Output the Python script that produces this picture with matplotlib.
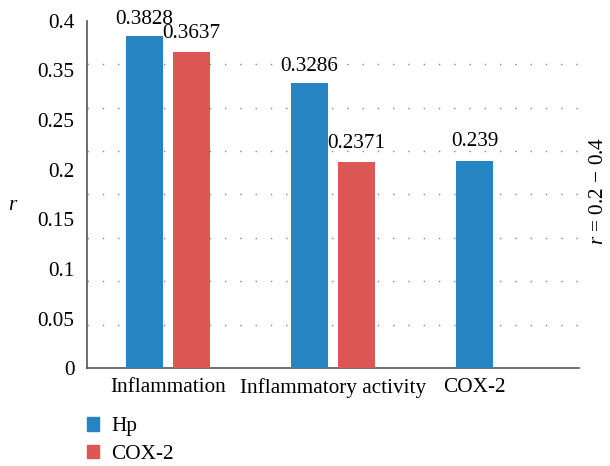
import matplotlib
matplotlib.use("Agg")
import matplotlib.pyplot as plt
from matplotlib.patches import Patch
import numpy as np

# data
categories = ["Inflammation", "Inflammatory activity", "COX-2"]
hp_values = [0.3828, 0.3286, 0.239]
cox2_values = [0.3637, 0.2371, None]
series_names = ["Hp", "COX-2"]
# the reference puts its y labels evenly, skipping 0.3
ytick_labels = ["0", "0.05", "0.1", "0.15", "0.2", "0.25", "0.35", "0.4"]

blue = "#2684C2"
red = "#DD5755"

plt.rcParams["font.family"] = ["Liberation Serif", "DejaVu Serif"]
plt.rcParams["font.size"] = 15.3
plt.rcParams["mathtext.fontset"] = "custom"
plt.rcParams["mathtext.it"] = "Liberation Serif:italic"
plt.rcParams["mathtext.rm"] = "Liberation Serif"

fig = plt.figure(figsize=(6.1, 4.66), dpi=100)
ax = fig.add_axes([0.1426, 0.2097, 0.8064, 0.7459])

width = 0.224
off = 0.142

for i, (h, c) in enumerate(zip(hp_values, cox2_values)):
    if c is None:
        b = ax.bar(i - off, h, width, color=blue, zorder=3)
        ax.bar_label(b, labels=[str(h)], padding=7)
    else:
        b = ax.bar(i - off, h, width, color=blue, zorder=3)
        ax.bar_label(b, labels=[str(h)], padding=5)
        b2 = ax.bar(i + off, c, width, color=red, zorder=3)
        ax.bar_label(b2, labels=[str(c)], padding=7)

ax.set_xlim(-0.49, 2.49)
ax.set_ylim(0, 0.4)

tick_pos = [0, 1, 2 - off]
ax.set_xticks(tick_pos)
ax.set_xticklabels(categories)
ax.tick_params(axis="x", length=0, pad=7)

# label positions spaced evenly, gridlines at every 0.05
ax.set_yticks(np.linspace(0, 0.4, len(ytick_labels)))
ax.set_yticklabels(ytick_labels)
ax.set_yticks(np.arange(0, 0.41, 0.05), minor=True)
ax.tick_params(axis="y", which="both", length=0, pad=9)
ax.grid(axis="y", which="minor", linestyle=(0, (1, 10)), color="#888888", linewidth=1, zorder=0)
ax.grid(axis="y", which="major", visible=False)

for s in ["top", "right"]:
    ax.spines[s].set_visible(False)
for s in ["left", "bottom"]:
    ax.spines[s].set_color("#555555")
    ax.spines[s].set_linewidth(1.2)

ax.set_ylabel("$r$", rotation=0)
ax.yaxis.set_label_coords(-0.15, 0.44)

fig.text(0.981, 1 - 191 / 466, "$r$ = 0.2 − 0.4", rotation=90, ha="center", va="center")

handles = [Patch(color=blue, label=series_names[0]), Patch(color=red, label=series_names[1])]
fig.legend(handles=handles, loc="upper left", bbox_to_anchor=(0.142, 0.105), frameon=False,
           handlelength=0.6, handleheight=0.6, handletextpad=0.55, labelspacing=0.4,
           borderaxespad=0, borderpad=0)

fig.savefig("out.png", dpi=100)
